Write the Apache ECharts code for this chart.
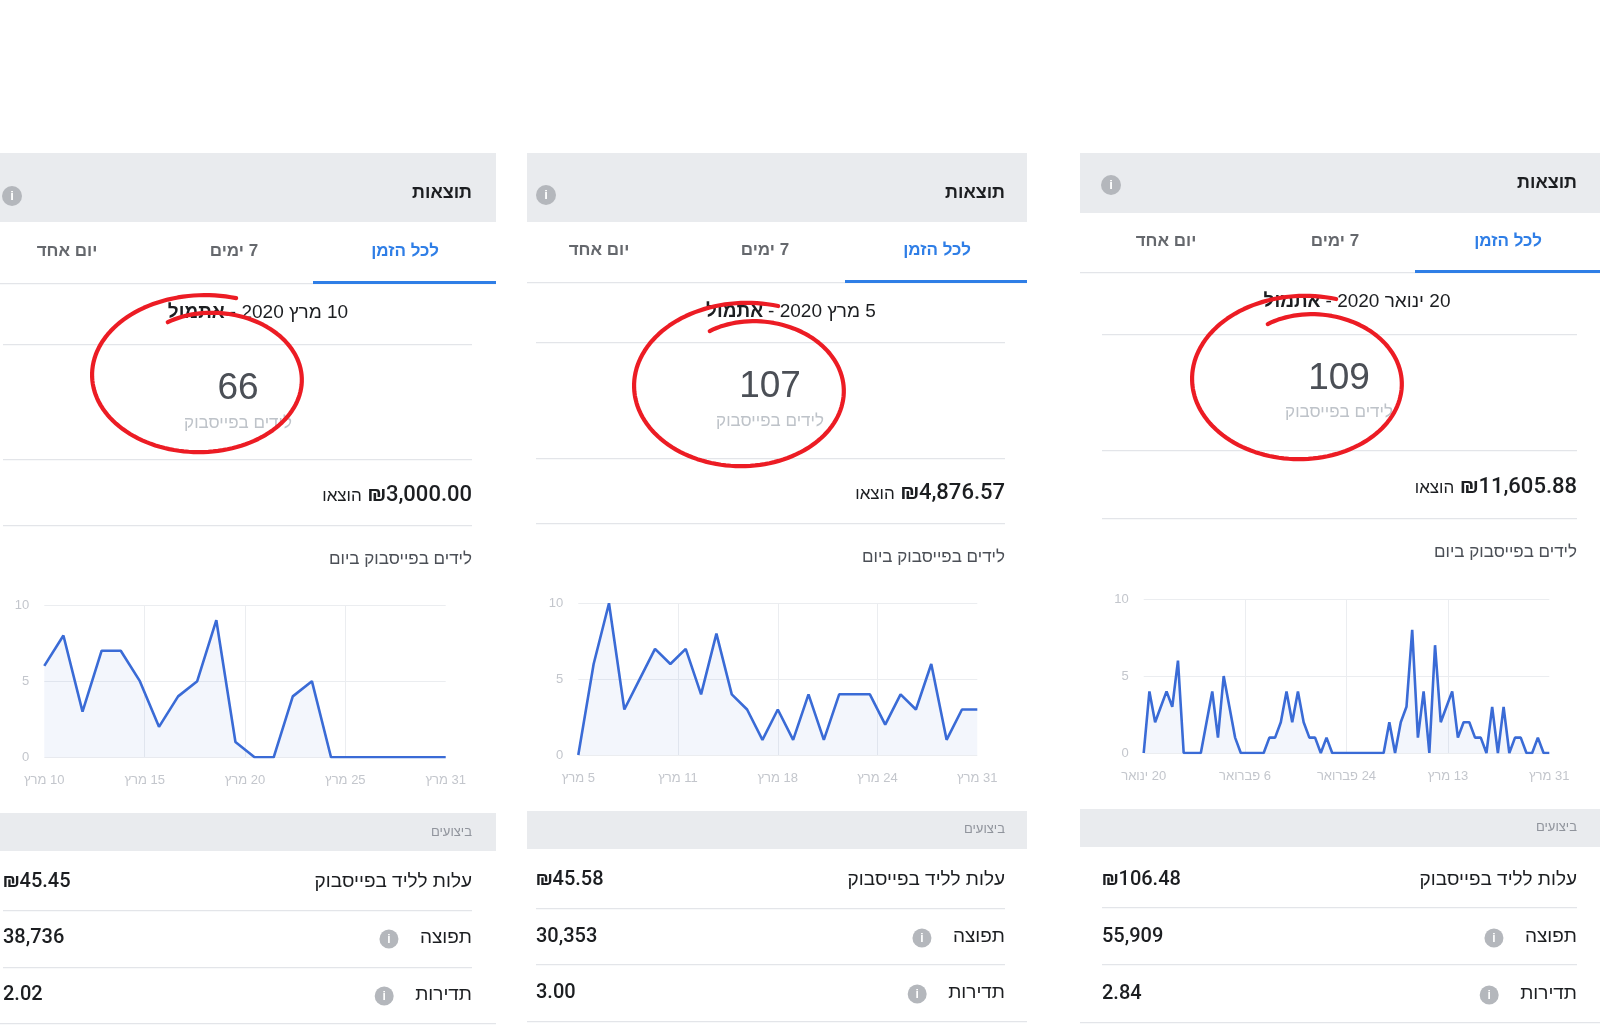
<!DOCTYPE html>
<html>
<head>
<meta charset="utf-8">
<script src="https://cdn.jsdelivr.net/npm/echarts@6/dist/echarts.min.js"></script>
<style>
  html, body { margin: 0; padding: 0; background: #ffffff; }
  #chart { width: 1600px; height: 1028px; direction: rtl; }
</style>
</head>
<body>
<div id="chart"></div>
<script>
// ---------------- DATA ----------------
const leads1 = [6, 8, 3, 7, 7, 5, 2, 4, 5, 9, 1, 0, 0, 4, 5, 0, 0, 0, 0, 0, 0, 0];
const leads2 = [0, 6, 10, 3, 5, 7, 6, 7, 4, 8, 4, 3, 1, 3, 1, 4, 1, 4, 4, 4, 2, 4, 3, 6, 1, 3, 3];
const leads3 = [0, 4, 2, 3, 4, 3, 6,
  0, 0, 0, 0,
  2, 4, 1, 5, 3, 1,
  0, 0, 0, 0, 0,
  1, 1, 2, 4, 2, 4, 2, 1, 1, 0, 1, 0,
  0, 0, 0, 0, 0, 0, 0, 0, 0,
  2, 0, 2, 3, 8, 1, 4, 0, 7, 2, 3, 4, 1, 2, 2, 1, 1, 0, 3, 0, 3, 0, 1, 1, 0, 0, 1, 0, 0];
const ticks1 = ['10 מרץ', '15 מרץ', '20 מרץ', '25 מרץ', '31 מרץ'];
const ticks2 = ['5 מרץ', '11 מרץ', '18 מרץ', '24 מרץ', '31 מרץ'];
const ticks3 = ['20 ינואר', '6 פברואר', '24 פברואר', '13 מרץ', '31 מרץ'];
const yTicks = [0, 5, 10];

const totalLeads = ['66', '107', '109'];
const spent = ['₪3,000.00', '₪4,876.57', '₪11,605.88'];
const startDates = ['10 מרץ 2020', '5 מרץ 2020', '20 ינואר 2020'];
const endLabel = 'אתמול';
const costPerLead = ['₪45.45', '₪45.58', '₪106.48'];
const reach = ['38,736', '30,353', '55,909'];
const frequency = ['2.02', '3.00', '2.84'];
const tabLabels = ['לכל הזמן', '7 ימים', 'יום אחד'];
const headerTitle = 'תוצאות';
const bigLabel = 'לידים בפייסבוק';
const spentLabel = 'הוצאו';
const chartTitle = 'לידים בפייסבוק ביום';
const perfTitle = 'ביצועים';
const rowLabels = ['עלות לליד בפייסבוק', 'תפוצה', 'תדירות'];

const seriesData = [leads1, leads2, leads3];
const tickSets = [ticks1, ticks2, ticks3];

// ---------------- LAYOUT ----------------
const FONT = "'Liberation Sans', Arimo, 'DejaVu Sans', sans-serif";
const NUMFONT = "Roboto, 'Liberation Sans', 'DejaVu Sans', sans-serif";
const BLUE = '#2f7ee6';
const LINE = '#3a6bd6';
const GRAYBG = '#e9ebee';
const SEP = '#e3e5e9';
const DARK = '#1c1e21';

const layouts = [
  { x0: 0, x1: 496, inL: 3, inR: 472, head: [153, 222], headY: 193, infoX: 12, infoY: 196,
    tabY: 251, tabX: [405, 234, 67], ul: [313, 496], sepTab: 283,
    dateY: 313, dateC: 258, sep1: 344, bigX: 238, bigY: 389, subY: 423, sep2: 459,
    amtY: 495, sep3: 525, titleY: 559,
    grid: { l: 44.3, t: 605, r: 445.7, b: 757.3 },
    band: [813, 851], bandY: 832, rows: [882, 938, 995], rowSeps: [910, 967], lastSep: 1023,
    circ: { cx: 202, cy: 377, rx: 105, ry: 75 } },
  { x0: 527, x1: 1027, inL: 536, inR: 1005, head: [153, 222], headY: 193, infoX: 546, infoY: 195,
    tabY: 250, tabX: [937, 765, 599], ul: [845, 1027], sepTab: 282,
    dateY: 312, dateC: 791, sep1: 342, bigX: 770, bigY: 387, subY: 421, sep2: 458,
    amtY: 493, sep3: 523, titleY: 557,
    grid: { l: 578.3, t: 603.3, r: 977.3, b: 755 },
    band: [811, 849], bandY: 829, rows: [880, 937, 993], rowSeps: [908, 964], lastSep: 1021,
    circ: { cx: 744, cy: 388, rx: 105, ry: 78 } },
  { x0: 1080, x1: 1600, inL: 1102, inR: 1577, head: [153, 213], headY: 183, infoX: 1111, infoY: 185,
    tabY: 241, tabX: [1508, 1335, 1166], ul: [1415, 1600], sepTab: 272,
    dateY: 302, dateC: 1357, sep1: 334, bigX: 1339, bigY: 379, subY: 412, sep2: 450,
    amtY: 487, sep3: 518, titleY: 552,
    grid: { l: 1143.7, t: 599, r: 1549.3, b: 753 },
    band: [809, 847], bandY: 827, rows: [880, 937, 994], rowSeps: [907, 964], lastSep: 1022,
    circ: { cx: 1302, cy: 381, rx: 105, ry: 78 } }
];

const mctx = document.createElement('canvas').getContext('2d');
function measure(text, font) { mctx.font = font; return mctx.measureText(text).width; }
function f(size, weight, fam) { return (weight || 'normal') + ' ' + size + 'px ' + (fam || FONT); }

function txt(x, y, text, font, fill, align, z) {
  return { type: 'text', x: x, y: y, z: z || 10, silent: true,
    style: { text: text, font: font, fill: fill, align: align || 'left', textAlign: align || 'left',
             verticalAlign: 'middle', textVerticalAlign: 'middle' } };
}
function rect(x, y, w, h, fill, z) {
  return { type: 'rect', z: z || 1, silent: true, shape: { x: x, y: y, width: w, height: h }, style: { fill: fill } };
}
function info(x, y, r) {
  return [
    { type: 'circle', z: 5, silent: true, shape: { cx: x, cy: y, r: r }, style: { fill: '#b4b7bc' } },
    txt(x, y + 0.5, 'i', f(Math.round(r * 1.25), 'bold'), '#ffffff', 'center', 6)
  ];
}
function scribble(c) {
  const pts = [];
  const t0 = -Math.PI / 2 + 0.3;
  const t1 = -5 * Math.PI / 2 - 0.42;
  const n = 150;
  for (let k = 0; k <= n; k++) {
    const u = k / n;
    const t = t0 + (t1 - t0) * u;
    const s = 1.1 - 0.2 * u - 0.1 * Math.pow(u, 8);
    pts.push([c.cx + c.rx * s * Math.cos(t), c.cy + c.ry * s * Math.sin(t)]);
  }
  return { type: 'polyline', z: 100, silent: true, shape: { points: pts },
    style: { stroke: '#ec1c24', lineWidth: 4.2, fill: null, lineCap: 'round', lineJoin: 'round' } };
}

const elements = [];
layouts.forEach((L, i) => {
  const W = L.x1 - L.x0;
  // header
  elements.push(rect(L.x0, L.head[0], W, L.head[1] - L.head[0], GRAYBG));
  elements.push(txt(L.inR, L.headY, headerTitle, f(18, 'bold'), DARK, 'right'));
  elements.push(...info(L.infoX, L.infoY, 10));
  // tabs
  tabLabels.forEach((t, k) => {
    elements.push(txt(L.tabX[k], L.tabY, t, f(17, 'bold'), k === 0 ? BLUE : '#65686d', 'center'));
  });
  elements.push(rect(L.x0, L.sepTab, W, 1.2, SEP, 2));
  elements.push(rect(L.ul[0], L.sepTab - 2, L.ul[1] - L.ul[0], 3, BLUE, 3));
  // date line
  const regText = startDates[i] + ' -';
  const wr = measure(regText, f(19));
  const wb = measure(endLabel, f(19, 'bold'));
  const total = wr + 5 + wb;
  const left = L.dateC - total / 2;
  elements.push(txt(left, L.dateY, endLabel, f(19, 'bold'), DARK, 'left'));
  elements.push(txt(left + total, L.dateY, regText, f(19), DARK, 'right'));
  elements.push(rect(L.inL, L.sep1, L.inR - L.inL, 1.2, SEP));
  // big number
  elements.push(txt(L.bigX, L.bigY, totalLeads[i], f(37), '#4b4f56', 'center'));
  elements.push(txt(L.bigX, L.subY, bigLabel, f(17), '#bec3c9', 'center'));
  elements.push(rect(L.inL, L.sep2, L.inR - L.inL, 1.2, SEP));
  // spent
  const amtFont = f(22, '500', NUMFONT);
  const wa = measure(spent[i], amtFont);
  elements.push(txt(L.inR, L.amtY, spent[i], amtFont, DARK, 'right'));
  elements.push(txt(L.inR - wa - 6, L.amtY + 1, spentLabel, f(17), DARK, 'right'));
  elements.push(rect(L.inL, L.sep3, L.inR - L.inL, 1.2, SEP));
  // chart title
  elements.push(txt(L.inR, L.titleY, chartTitle, f(17), '#4b4f56', 'right'));
  // performance band
  elements.push(rect(L.x0, L.band[0], W, L.band[1] - L.band[0], GRAYBG));
  elements.push(txt(L.inR, L.bandY, perfTitle, f(13), '#90949c', 'right'));
  // rows
  const vals = [costPerLead[i], reach[i], frequency[i]];
  rowLabels.forEach((lab, r) => {
    elements.push(txt(L.inR, L.rows[r], lab, f(19), DARK, 'right'));
    elements.push(txt(L.inL, L.rows[r], vals[r], f(20, '500', NUMFONT), DARK, 'left'));
    if (r > 0) {
      const wl = measure(lab, f(19));
      elements.push(...info(L.inR - wl - 31, L.rows[r] + 1, 9.5));
    }
  });
  L.rowSeps.forEach(y => elements.push(rect(L.inL, y, L.inR - L.inL, 1.2, SEP)));
  elements.push(rect(L.x0, L.lastSep, W, 1.2, SEP));
  // red scribble
  elements.push(scribble(L.circ));
});

// ---------------- CHARTS ----------------
const grids = [], xAxes = [], yAxes = [], series = [];
layouts.forEach((L, i) => {
  const data = seriesData[i];
  const ticks = tickSets[i];
  const n = data.length - 1;
  const step = n / (ticks.length - 1);
  grids.push({ left: L.grid.l, top: L.grid.t, width: L.grid.r - L.grid.l, height: L.grid.b - L.grid.t, containLabel: false });
  xAxes.push({
    type: 'value', gridIndex: i, min: 0, max: n, interval: step,
    axisLine: { show: false }, axisTick: { show: false },
    splitLine: { show: true, showMinLine: false, showMaxLine: false, lineStyle: { color: '#ebedf0', width: 1 } },
    axisLabel: { color: '#c3c6cc', fontSize: 13, fontFamily: FONT, margin: 17,
      formatter: v => ticks[Math.round(v / step)] }
  });
  yAxes.push({
    type: 'value', gridIndex: i, min: yTicks[0], max: yTicks[yTicks.length - 1], interval: yTicks[1] - yTicks[0],
    axisLine: { show: false }, axisTick: { show: false },
    splitLine: { show: true, lineStyle: { color: '#ebedf0', width: 1 } },
    axisLabel: { color: '#c3c6cc', fontSize: 13, fontFamily: FONT, margin: 15 }
  });
  series.push({
    type: 'line', xAxisIndex: i, yAxisIndex: i, showSymbol: false, symbol: 'none',
    data: data.map((v, k) => [k, v]),
    lineStyle: { color: LINE, width: 2.6 },
    itemStyle: { color: LINE },
    areaStyle: { color: 'rgba(58,107,214,0.09)' },
    animation: false, z: 3
  });
});

const chart = echarts.init(document.getElementById('chart'), null, { renderer: 'canvas' });
chart.setOption({
  backgroundColor: '#ffffff',
  animation: false,
  textStyle: { fontFamily: FONT },
  grid: grids,
  xAxis: xAxes,
  yAxis: yAxes,
  series: series,
  graphic: { elements: elements }
});
</script>
</body>
</html>
